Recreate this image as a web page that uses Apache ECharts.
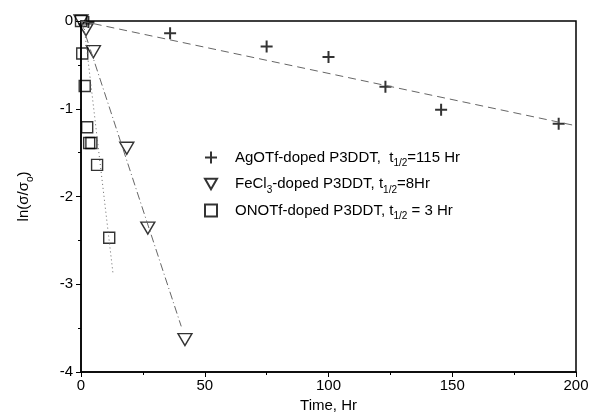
<!DOCTYPE html>
<html>
<head>
<meta charset="utf-8">
<script src="https://cdn.jsdelivr.net/npm/echarts@6/dist/echarts.min.js"></script>
<style>
  html, body { margin: 0; padding: 0; background: #fff; }
  #chart { width: 595px; height: 418px; }
</style>
</head>
<body>
<div id="chart"></div>
<script>
// measured points, [time (Hr), ln(sigma/sigma0)]
var agPoints = [[3, -0.01], [36, -0.14], [75, -0.29], [100, -0.41], [123, -0.75], [145.5, -1.01], [193, -1.17]];
var fePoints = [[0, 0], [2, -0.1], [5, -0.35], [18.5, -1.45], [27, -2.36], [42, -3.63]];
var onPoints = [[0, 0], [0.5, -0.37], [1.5, -0.74], [2.5, -1.21], [3.3, -1.39], [4.2, -1.39], [6.5, -1.64], [11.4, -2.47]];

// fitted lines
var agFit = [[0, 0], [201, -1.2]];
var feFit = [[0, 0], [40.5, -3.48]];
var onFit = [[1, 0], [12.9, -2.87]];

var xTicks = [0, 50, 100, 150, 200];
var yTicks = [0, -1, -2, -3, -4];

var plusPath = 'path://M5,0L7,0L7,5L12,5L12,7L7,7L7,12L5,12L5,7L0,7L0,5L5,5Z';
var downTri = 'path://M0,0L14,0L7,12Z';

var myChart = echarts.init(document.getElementById('chart'));
var font = 'Liberation Sans, Arial, sans-serif';
var richText = {
    a: { fontFamily: font, fontSize: 15, color: '#000', lineHeight: 22 },
    s: { fontFamily: font, fontSize: 10, color: '#000', lineHeight: 9, verticalAlign: 'bottom' }
};

myChart.setOption({
    animation: false,
    grid: { left: 81, right: 19, top: 21, bottom: 44, show: true, borderColor: '#000', borderWidth: 1.5 },
    legend: {
        left: 199, top: 145, orient: 'vertical', itemGap: 8,
        itemWidth: 12, itemHeight: 12,
        data: ['ag', 'fe', 'on'],
        formatter: function (name) {
            if (name == 'ag') return '{a|AgOTf-doped P3DDT,  t}{s|1/2}{a|=115 Hr}';
            if (name == 'fe') return '{a|FeCl}{s|3}{a|-doped P3DDT, t}{s|1/2}{a|=8Hr}';
            return '{a|ONOTf-doped P3DDT, t}{s|1/2}{a| = 3 Hr}';
        },
        textStyle: { padding: [0, 0, 0, 13], rich: richText }
    },
    xAxis: {
        type: 'value', min: 0, max: 200, interval: 50,
        name: 'Time, Hr', nameLocation: 'middle', nameGap: 26,
        nameTextStyle: { fontFamily: font, fontSize: 15, color: '#000' },
        axisLine: { onZero: false, lineStyle: { color: '#000', width: 1.5 } },
        axisTick: { length: 5, lineStyle: { color: '#000' } },
        minorTick: { show: true, splitNumber: 2, length: 3, lineStyle: { color: '#000' } },
        axisLabel: { fontFamily: font, fontSize: 15, color: '#000', margin: 6,
            formatter: function (v) { return xTicks.indexOf(v) >= 0 ? String(v) : ''; } },
        splitLine: { show: false }
    },
    yAxis: {
        type: 'value', min: -4, max: 0, interval: 1,
        name: '{a|ln(σ/σ}{s|o}{a|)}', nameLocation: 'middle', nameGap: 46, nameRotate: 90,
        nameTextStyle: { rich: richText },
        axisLine: { onZero: false, lineStyle: { color: '#000', width: 1.5 } },
        axisTick: { length: 5, lineStyle: { color: '#000' } },
        minorTick: { show: true, splitNumber: 2, length: 3, lineStyle: { color: '#000' } },
        axisLabel: { fontFamily: font, fontSize: 15, color: '#000', margin: 8,
            formatter: function (v) { return yTicks.indexOf(v) >= 0 ? String(v) : ''; } },
        splitLine: { show: false }
    },
    series: [
        { name: 'agFit', type: 'line', data: agFit, symbol: 'none', silent: true,
          lineStyle: { color: '#666', width: 1, type: [8, 5] } },
        { name: 'feFit', type: 'line', data: feFit, symbol: 'none', silent: true,
          lineStyle: { color: '#666', width: 1, type: [8, 3, 1, 3] } },
        { name: 'onFit', type: 'line', data: onFit, symbol: 'none', silent: true,
          lineStyle: { color: '#666', width: 1, type: [1, 3] } },
        { name: 'ag', type: 'scatter', data: agPoints, symbol: plusPath, symbolSize: 12,
          itemStyle: { color: '#000' } },
        { name: 'fe', type: 'scatter', data: fePoints, symbol: downTri, symbolSize: [14, 12],
          itemStyle: { color: 'rgba(255,255,255,0)', borderColor: '#000', borderWidth: 1.4 } },
        { name: 'on', type: 'scatter', data: onPoints, symbol: 'rect', symbolSize: 11,
          itemStyle: { color: 'rgba(255,255,255,0)', borderColor: '#000', borderWidth: 1.4 } }
    ]
});
</script>
</body>
</html>
